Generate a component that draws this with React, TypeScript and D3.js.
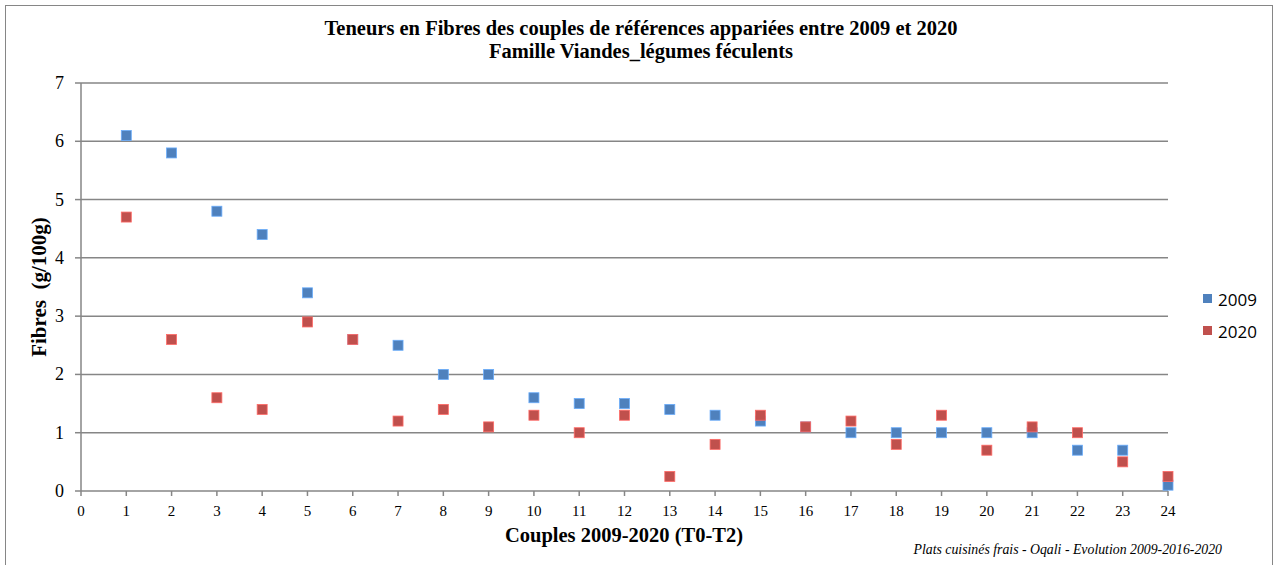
import { useMemo } from 'react';
import * as d3 from 'd3';

// Couples 1..24, fibres g/100g
const couples = d3.range(1, 25);
const fibres2009 = [6.1, 5.8, 4.8, 4.4, 3.4, 2.6, 2.5, 2.0, 2.0, 1.6, 1.5, 1.5, 1.4, 1.3, 1.2, 1.1, 1.0, 1.0, 1.0, 1.0, 1.0, 0.7, 0.7, 0.1];
const fibres2020 = [4.7, 2.6, 1.6, 1.4, 2.9, 2.6, 1.2, 1.4, 1.1, 1.3, 1.0, 1.3, 0.25, 0.8, 1.3, 1.1, 1.2, 0.8, 1.3, 0.7, 1.1, 1.0, 0.5, 0.25];
const xTicks = d3.range(0, 25);
const yTicks = d3.range(0, 8);

const seriesList = [
  { name: '2009', values: fibres2009, color: '#4F81BD' },
  { name: '2020', values: fibres2020, color: '#C0504D' },
];

const W = 1275;
const H = 565;
const serif = "'Liberation Serif', serif";

export default function App() {
  const x = useMemo(() => d3.scaleLinear().domain([0, 24]).range([81, 1168]), []);
  const y = useMemo(() => d3.scaleLinear().domain([0, 7]).range([491, 83]), []);
  const m = 10;

  return (
    <svg width={W} height={H} style={{ position: 'absolute', left: 0, top: 0, background: '#fff' }}>
      <rect x={5.5} y={5.5} width={W - 8} height={H + 10} fill="#fff" stroke="#868686" />

      {/* title */}
      <text x={641} y={35} textAnchor="middle" fontFamily={serif} fontWeight="bold" fontSize={20.5} fill="#000">
        Teneurs en Fibres des couples de références appariées entre 2009 et 2020
      </text>
      <text x={641} y={58} textAnchor="middle" fontFamily={serif} fontWeight="bold" fontSize={20.5} fill="#000">
        Famille Viandes_légumes féculents
      </text>

      {/* gridlines */}
      {yTicks.filter((t) => t > 0).map((t) => (
        <line key={t} x1={x(0)} x2={x(24)} y1={y(t)} y2={y(t)} stroke="#868686" strokeWidth={1.5} />
      ))}

      {/* axes */}
      <line x1={x(0)} x2={x(0)} y1={y(7)} y2={y(0)} stroke="#868686" strokeWidth={1.5} />
      <line x1={x(0)} x2={x(24)} y1={y(0)} y2={y(0)} stroke="#868686" strokeWidth={1.5} />
      {yTicks.map((t) => (
        <g key={t}>
          <line x1={x(0) - 6} x2={x(0)} y1={y(t)} y2={y(t)} stroke="#868686" strokeWidth={1.5} />
          <text x={64} y={y(t) + 6} textAnchor="end" fontFamily={serif} fontSize={18} fill="#000">{t}</text>
        </g>
      ))}
      {xTicks.map((t) => (
        <g key={t}>
          <line x1={x(t)} x2={x(t)} y1={y(0)} y2={y(0) + 5} stroke="#868686" strokeWidth={1.5} />
          <text x={x(t)} y={516} textAnchor="middle" fontFamily={serif} fontSize={15} fill="#000">{t}</text>
        </g>
      ))}

      {/* axis titles */}
      <text x={624} y={542} textAnchor="middle" fontFamily={serif} fontWeight="bold" fontSize={20.5} fill="#000">
        Couples 2009-2020 (T0-T2)
      </text>
      <text transform={`translate(46,${287}) rotate(-90)`} textAnchor="middle" fontFamily={serif} fontWeight="bold" fontSize={21} fill="#000" xmlSpace="preserve">
        Fibres  (g/100g)
      </text>

      {/* points */}
      {seriesList.map((s) => (
        <g key={s.name}>
          {s.values.map((v, i) => (
            <rect key={i} x={x(couples[i]) - m / 2} y={y(v) - m / 2} width={m} height={m} fill={s.color}
              stroke={d3.color(s.color)!.brighter(0.8).formatHex()} strokeWidth={0.8} />
          ))}
        </g>
      ))}

      {/* legend */}
      {seriesList.map((s, i) => (
        <g key={s.name} transform={`translate(1203,${299 + i * 32})`}>
          <rect x={0} y={-5} width={9} height={9} fill={s.color} />
          <text x={15} y={7} fontFamily="'Open Sans', 'DejaVu Sans', sans-serif" fontSize={17} fill="#000">{s.name}</text>
        </g>
      ))}

      {/* source note */}
      <text x={1222} y={554} textAnchor="end" fontFamily={serif} fontStyle="italic" fontSize={13.8} fill="#000">
        Plats cuisinés frais - Oqali - Evolution 2009-2016-2020
      </text>
    </svg>
  );
}
